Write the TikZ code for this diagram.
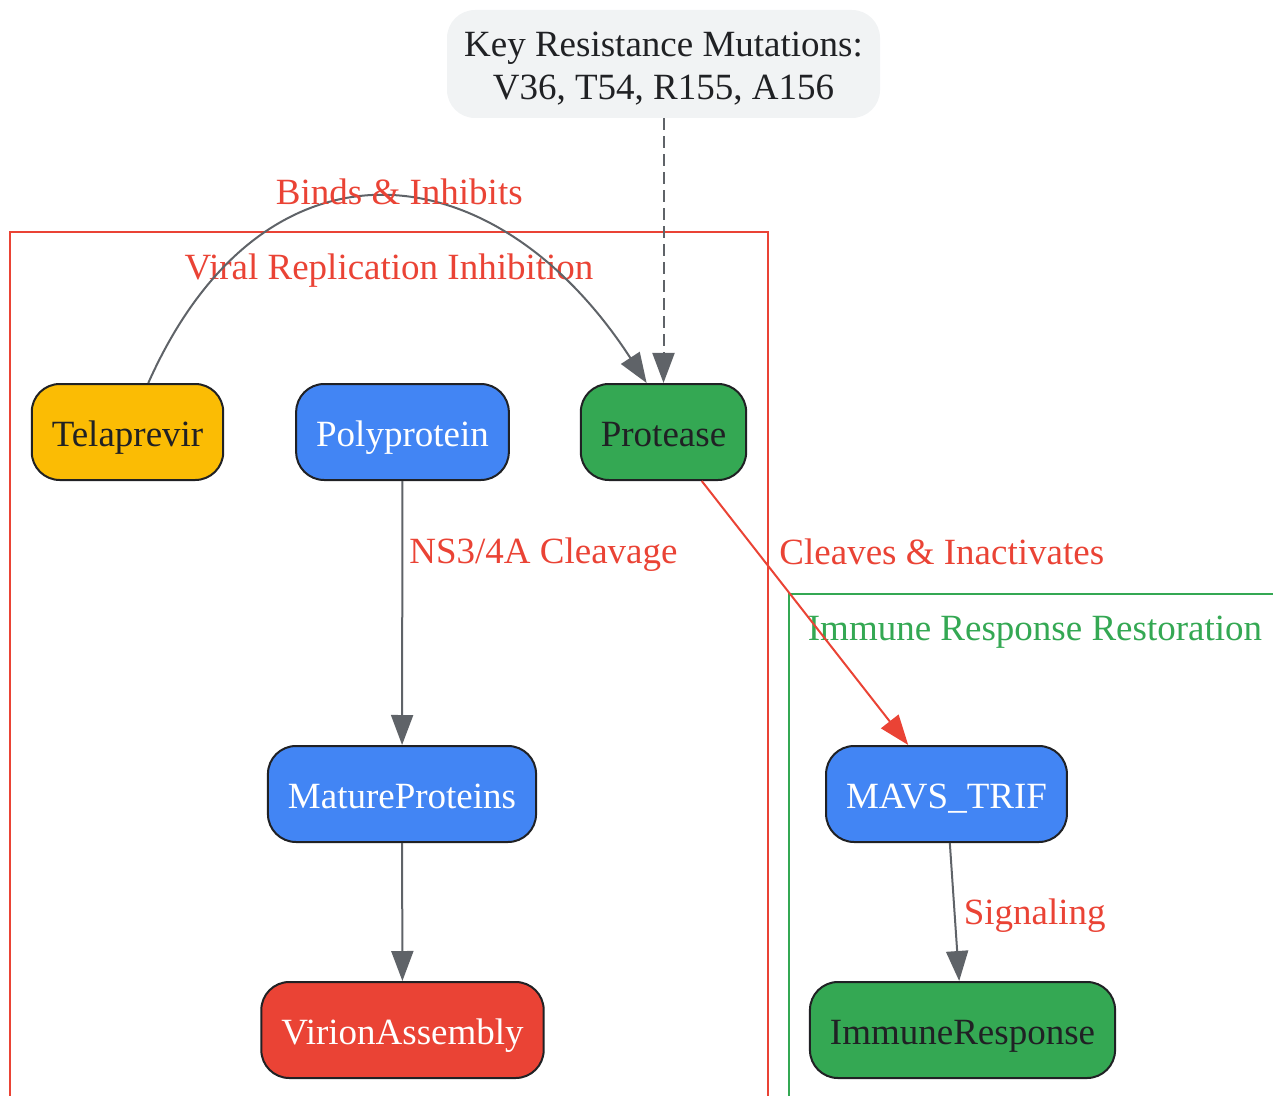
\documentclass[tikz,border=0pt]{standalone}
\usepackage{fontspec}
\setmainfont{Liberation Serif}
\usepackage{tikz}
\usetikzlibrary{arrows.meta}

\definecolor{gblue}{HTML}{4285F4}
\definecolor{gred}{HTML}{EA4335}
\definecolor{ggreen}{HTML}{34A853}
\definecolor{gyellow}{HTML}{FBBC04}
\definecolor{ggray}{HTML}{5F6368}
\definecolor{gdark}{HTML}{202124}
\definecolor{glight}{HTML}{F1F3F4}

\begin{document}
\begin{tikzpicture}[
  x=0.5pt, y=-0.5pt,
  font=\fontsize{18.5}{21.5}\selectfont,
  box/.style={draw=gdark, line width=1pt, rounded corners=14pt, minimum height=48pt, inner xsep=10pt, text height=14pt, text depth=0pt},
  arr/.style={-{Triangle[length=15pt, width=11pt]}, line width=1pt, ggray},
  lbl/.style={text=gred, inner sep=0pt}
]
  \useasboundingbox (0,0) rectangle (1273,1096);

  % subgraphs
  \draw[gred, line width=1pt] (10,1100) |- (768,232) -- (768,1100);
  \node[text=gred] (viral) at (389,271) {Viral Replication Inhibition};
  \draw[ggreen, line width=1pt] (789,1100) |- (1280,594);
  \node[text=ggreen] (restore) at (1035,632) {Immune Response Restoration};

  \node[fill=glight, rounded corners=14pt, text=gdark, minimum width=216.5pt, minimum height=54pt] (key) at (663.5,64)
    {\raisebox{-2.5pt}[\height][\depth]{\begin{tabular}{@{}c@{}}Key Resistance Mutations:\\V36, T54, R155, A156\end{tabular}}};

  \node[box, fill=gyellow, text=gdark] (tel) at (127.5,432) {Telaprevir};
  \node[box, fill=gblue, text=white] (poly) at (402.5,432) {Polyprotein};
  \node[box, fill=ggreen, text=gdark] (prot) at (663.5,432) {Protease};
  \node[box, fill=gblue, text=white] (mature) at (402,794) {MatureProteins};
  \node[box, fill=gred, text=white] (virion) at (402.5,1030) {VirionAssembly};
  \node[box, fill=gblue, text=white] (mavs) at (946.5,794) {MAVS\_TRIF};
  \node[box, fill=ggreen, text=gdark] (immune) at (962.5,1030) {ImmuneResponse};

  \draw[arr] (tel.67) to[out=66, in=123, looseness=1.45] node[lbl, pos=0.53, yshift=3.5pt] {Binds \& Inhibits} (prot.109);
  \draw[arr, dash pattern=on 6pt off 3pt] (key) -- (prot);
  \draw[arr] (poly) -- node[lbl, pos=0.28, anchor=west, xshift=3pt] {NS3/4A Cleavage} (mature);
  \draw[arr] (mature) -- (virion);
  \draw[arr, gred] (prot) -- node[lbl, pos=0.27, anchor=west, xshift=10.5pt] {Cleaves \& Inactivates} (mavs);
  \draw[arr] (mavs) -- node[lbl, pos=0.53, anchor=west, xshift=4pt] {Signaling} (immune);
\end{tikzpicture}
\end{document}
